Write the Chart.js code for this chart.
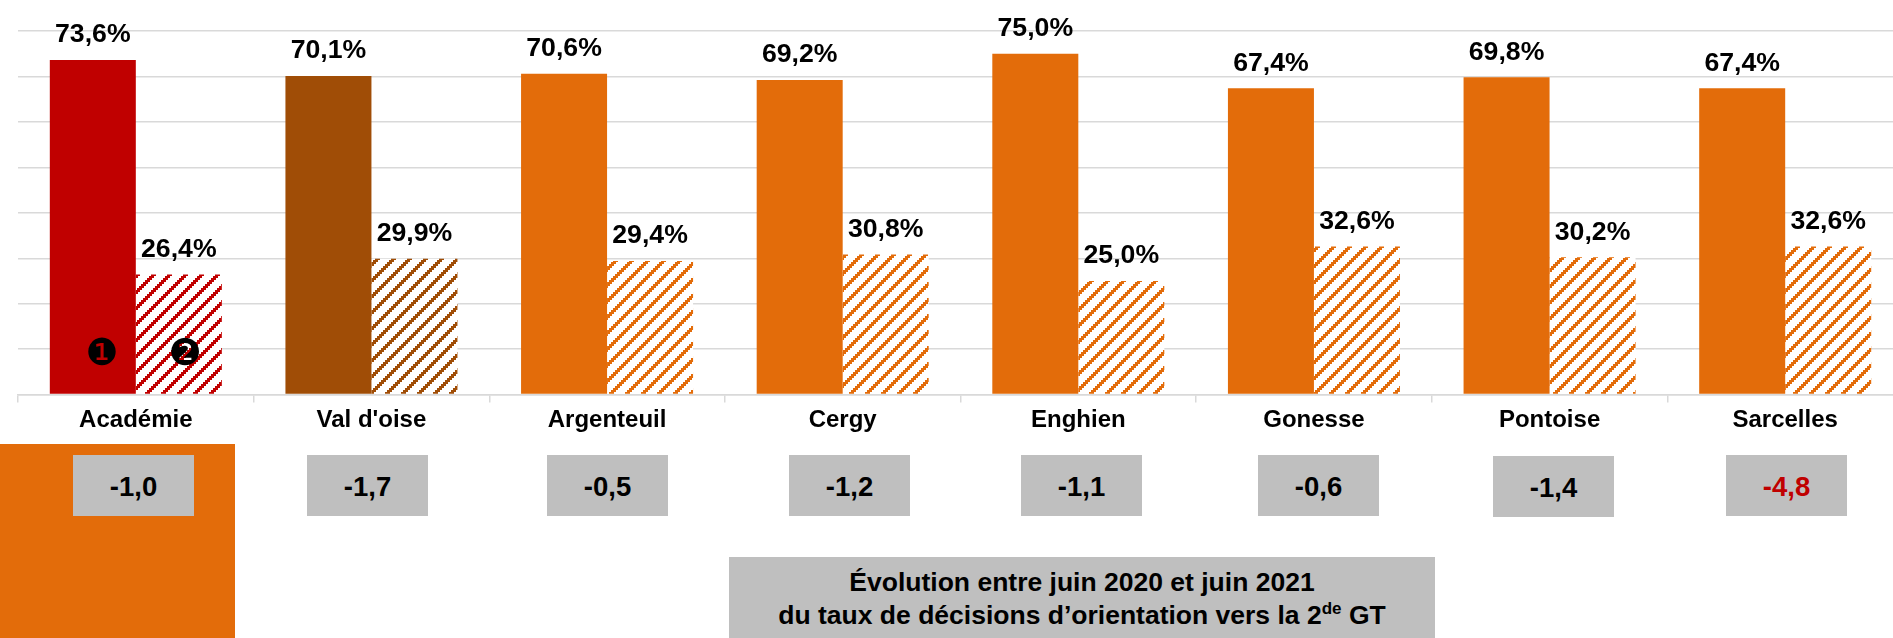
<!DOCTYPE html>
<html lang="fr">
<head>
<meta charset="utf-8">
<title>Décisions d'orientation</title>
<script src="https://cdn.jsdelivr.net/npm/chart.js@4"></script>
<style>
html,body{margin:0;padding:0;background:#fff;overflow:hidden;width:1893px;height:638px}
#wrap{position:relative;width:1893px;height:638px;overflow:hidden;font-family:"Liberation Sans",Arial,sans-serif;font-weight:bold;color:#000}
canvas{position:absolute;left:0;top:0}
.abs{position:absolute}
.box{background:#bfbfbf;width:121px;height:61px;line-height:64px;text-align:center;font-size:27.5px}
#orange{left:0;top:444px;width:235px;height:194px;background:#e36c0a}
#title{left:729px;top:557px;width:706px;height:81px;background:#bfbfbf;text-align:center;font-size:26.5px;line-height:33px;padding-top:9px;box-sizing:border-box}
#title sup{font-size:17px;line-height:0;vertical-align:10px}
.mark{font-family:"DejaVu Sans";font-weight:normal;font-size:37px;line-height:34px;width:40px;text-align:center}
</style>
</head>
<body>
<div id="wrap">
<canvas id="c" width="1903" height="438"></canvas>
<div class="abs" id="orange"></div>
<div class="abs" id="title">Évolution entre juin 2020 et juin 2021<br>du taux de décisions d’orientation vers la 2<sup>de</sup> GT</div>
<div class="abs mark" style="left:82px;top:336px">❶</div>
<div class="abs mark" style="left:165px;top:336px">❷</div>
</div>
<script>
const categories = ["Académie","Val d'oise","Argenteuil","Cergy","Enghien","Gonesse","Pontoise","Sarcelles"];
const decisions2nde = [73.6,70.1,70.6,69.2,75.0,67.4,69.8,67.4];
const decisionsAutre = [26.4,29.9,29.4,30.8,25.0,32.6,30.2,32.6];
const evolution = ["-1,0","-1,7","-0,5","-1,2","-1,1","-0,6","-1,4","-4,8"];
const barColors = ["#c00000","#a04d06","#e36c0a","#e36c0a","#e36c0a","#e36c0a","#e36c0a","#e36c0a"];
const evolutionColors = ["#000","#000","#000","#000","#000","#000","#000","#c00000"];
const boxLeft = [73,307,547,789,1021,1258,1493,1726];
const boxTop = [455,455,455,455,455,455,456,455];

function hatch(color){
  const n = 16, t = document.createElement('canvas');
  t.width = n; t.height = n;
  const g = t.getContext('2d');
  g.fillStyle = '#fff'; g.fillRect(0,0,n,n);
  g.fillStyle = color;
  for(let s = 0; s < n/2; s++){
    const x = 9 - 2*s;
    for(const o of [-n,0,n]) g.fillRect(x+o, 2*s, 5, 2);
  }
  return g.createPattern(t,'repeat');
}

const wrap = document.getElementById('wrap');
evolution.forEach((v,i)=>{
  const d = document.createElement('div');
  d.className = 'abs box';
  d.textContent = v;
  d.style.left = boxLeft[i]+'px';
  d.style.top = boxTop[i]+'px';
  d.style.color = evolutionColors[i];
  wrap.appendChild(d);
});

const fmt = v => v.toFixed(1).replace('.',',') + '%';
const valueLabels = {
  id:'valueLabels',
  afterDatasetsDraw(chart){
    const ctx = chart.ctx;
    ctx.save();
    ctx.font = 'bold 26.67px "Liberation Sans", Arial, sans-serif';
    ctx.fillStyle = '#000';
    ctx.textAlign = 'center';
    ctx.textBaseline = 'middle';
    chart.data.datasets.forEach((ds,di)=>{
      chart.getDatasetMeta(di).data.forEach((el,i)=>{
        ctx.fillText(fmt(ds.data[i]), el.x, el.y-25);
      });
    });
    ctx.restore();
  }
};

new Chart(document.getElementById('c'),{
  type:'bar',
  data:{labels:categories,datasets:[
    {data:decisions2nde,backgroundColor:barColors,borderWidth:0},
    {data:decisionsAutre,backgroundColor:barColors.map(hatch),borderWidth:0}
  ]},
  options:{
    responsive:false,animation:false,
    layout:{padding:{left:18,top:31,right:0,bottom:0}},
    datasets:{bar:{barPercentage:1,categoryPercentage:0.73}},
    plugins:{legend:{display:false},tooltip:{enabled:false},title:{display:false}},
    scales:{
      x:{
        grid:{display:true,drawOnChartArea:false,drawTicks:true,tickLength:8,color:'#d9d9d9',lineWidth:1.5,offset:true},
        border:{color:'#d9d9d9',width:1.5},
        ticks:{color:'#000',padding:3.3,maxRotation:0,autoSkip:false,font:{family:'"Liberation Sans", Arial, sans-serif',weight:'bold',size:24}}
      },
      y:{
        min:0,max:80,
        afterFit(s){s.width=0;},
        ticks:{display:false,stepSize:10},
        border:{display:false},
        grid:{color:'#d9d9d9',lineWidth:1.5,drawTicks:false}
      }
    }
  },
  plugins:[valueLabels]
});
</script>
</body>
</html>
